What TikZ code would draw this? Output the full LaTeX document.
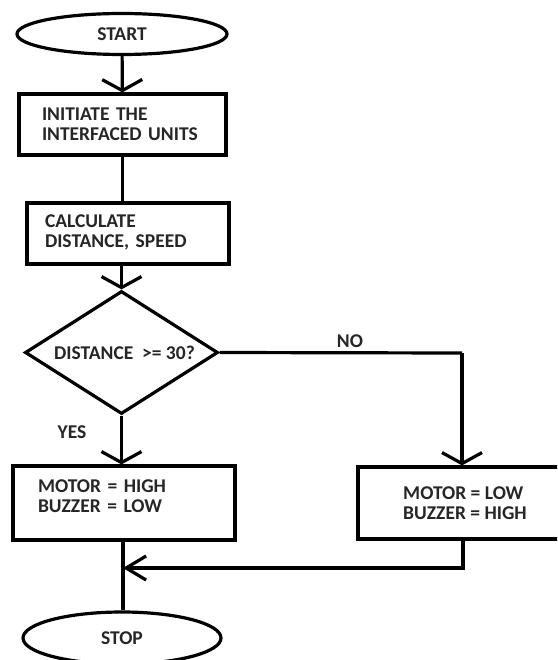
\documentclass[tikz,border=0pt]{standalone}
\usepackage{fontspec}
\setmainfont{Carlito}
\usetikzlibrary{shapes.geometric,arrows.meta}
\begin{document}
\begin{tikzpicture}[x=1pt,y=-1pt,
  every node/.style={font=\bfseries\fontsize{19.5}{20}\selectfont, text=black!85},
  ln/.style={line width=3.2pt, draw=black},
  term/.style={ln, ellipse, inner sep=0pt},
  procbox/.style={ln, rectangle, inner sep=0pt, align=left},
  decbox/.style={ln, diamond, inner sep=0pt},
  arr/.style={ln, -{Straight Barb[length=11pt,width=40pt]}},
  arrside/.style={ln, -{Straight Barb[length=20pt,width=24pt]}},
  lbl/.style={inner sep=0pt}
]
\useasboundingbox (0,0) rectangle (557,660);
\clip (0,0) rectangle (557,660);
\fill[white] (0,0) rectangle (557,660);

\node[term, minimum width=210pt, minimum height=41pt] (start) at (122,34) {START};
\node[procbox, minimum height=61pt, text width=161pt, inner xsep=23pt] (init) at (122.5,124.5)
  {INITIATE THE\\INTERFACED UNITS};
\node[procbox, minimum height=61pt, text width=166pt, inner xsep=18pt, text depth=25pt] (calc) at (128,233.5)
  {CALCULATE\\DISTANCE, SPEED};
\node[decbox, minimum width=193pt, minimum height=123pt] (dec) at (121.5,352.5)
  {\makebox[0pt]{\hspace*{6pt}DISTANCE\ \ >= 30?}};
\node[procbox, minimum height=74pt, text width=172pt, inner xsep=25pt, text depth=34pt] (lbox) at (124,503)
  {MOTOR = HIGH\\BUZZER = LOW};
\node[procbox, minimum width=214pt, minimum height=72pt] (rbox) at (465,503)
  {MOTOR = LOW\\BUZZER = HIGH};
\node[term, minimum width=198pt, minimum height=52pt] (stop) at (122,638) {STOP};

\coordinate (nocorner) at (462,353);
\coordinate (merge) at (123,568);

\draw[arr] (start) -- (init);
\draw[ln] (init.south) -- (init.south |- calc.north);
\draw[arr] (dec.north |- calc.south) -- (dec.north);
\draw[ln, line join=round] (dec.east) -- (nocorner);
\draw[arr] (nocorner) -- (nocorner |- rbox.north);
\draw[arr] (dec.south) -- (dec.south |- lbox.north);
\draw[ln] (merge |- lbox.south) -- (merge |- stop.north);
\draw[arrside] (rbox.south -| 463,0) |- (merge);

\node[lbl] (no) at (350,341) {NO};
\node[lbl] (yes) at (72,432) {YES};
\end{tikzpicture}
\end{document}
